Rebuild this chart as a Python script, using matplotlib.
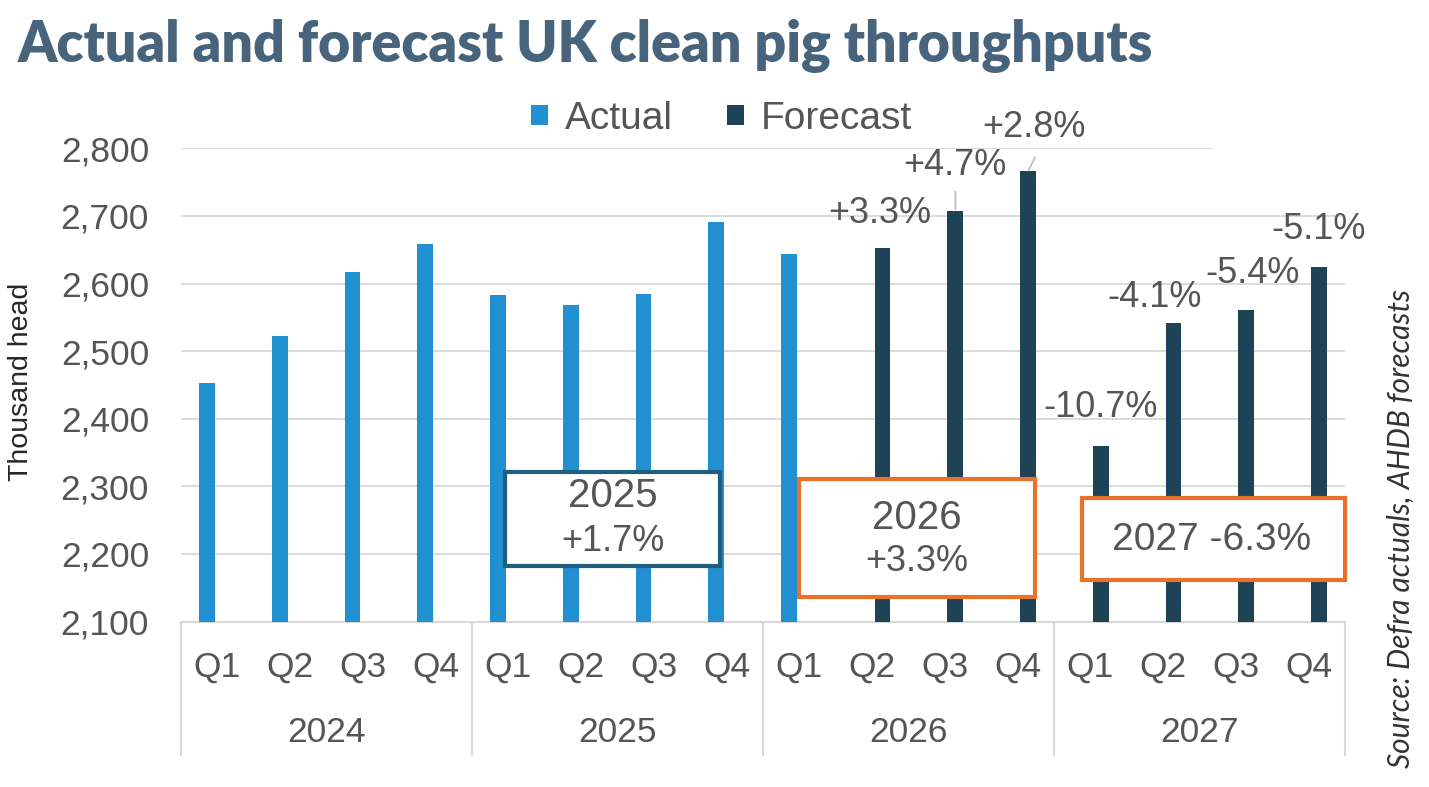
import numpy as np
import matplotlib
matplotlib.use("Agg")
import matplotlib.pyplot as plt
from matplotlib.patches import Rectangle, Patch
from matplotlib.lines import Line2D
import matplotlib.transforms as mtransforms

# ---- data ----
years = ["2024", "2025", "2026", "2027"]
quarters = ["Q1", "Q2", "Q3", "Q4"]
actual = [2453, 2523, 2617, 2658, 2583, 2568, 2584, 2691, 2643,
          np.nan, np.nan, np.nan, np.nan, np.nan, np.nan, np.nan]
forecast = [np.nan] * 9 + [2652, 2708, 2766, 2360, 2541, 2561, 2625]
forecast_labels = [None] * 9 + ["+3.3%", "+4.7%", "+2.8%", "-10.7%", "-4.1%", "-5.4%", "-5.1%"]
yticks = [2100, 2200, 2300, 2400, 2500, 2600, 2700, 2800]
box_2025 = ("2025", "+1.7%")
box_2026 = ("2026", "+3.3%")
box_2027 = "2027 -6.3%"

# ---- style ----
C_ACT = "#2090D0"
C_FC = "#1E4356"
C_TXT = "#555555"
C_GRID = "#D9D9D9"
C_ORANGE = "#E8722C"
C_TEAL = "#1F5E7D"
FONT = "Liberation Sans"
plt.rcParams["font.family"] = [FONT, "DejaVu Sans"]

W, H = 1429, 787
fig = plt.figure(figsize=(W / 100, H / 100), dpi=100)
L, R = 181 / W, 1345 / W
B, T = 1 - 621.6 / H, 1 - 148.3 / H
ax = fig.add_axes([L, B, R - L, T - B])

n = len(actual)
x = np.arange(n)
bw = 0.216
off = 0.144
ax.bar(x - off, actual, width=bw, color=C_ACT, zorder=3, label="Actual")
ax.bar(x + off, forecast, width=bw, color=C_FC, zorder=3, label="Forecast")

ax.set_xlim(-0.5, n - 0.5)
ax.set_ylim(yticks[0], yticks[-1])

# gridlines (top one stops short, as in the original)
for yv in yticks[1:]:
    xmax = 0.886 if yv == yticks[-1] else 1.0
    ax.axhline(yv, xmin=0, xmax=xmax, color=C_GRID, lw=1.3, zorder=1)

for s in ax.spines.values():
    s.set_visible(False)
ax.axhline(yticks[0], color=C_GRID, lw=1.5, zorder=2, clip_on=False)

ax.set_yticks(yticks)
ax.set_yticklabels([f"{v:,}" for v in yticks], fontsize=25.5, color=C_TXT)
ax.tick_params(axis="y", length=0, pad=23)

ax.set_xticks(x)
ax.set_xticklabels(quarters * len(years), fontsize=25.5, color=C_TXT)
ax.tick_params(axis="x", length=0, pad=21)

# year group labels and separators
trans = mtransforms.blended_transform_factory(ax.transData, ax.transAxes)
sep_bottom = -(755 - 621.6) / (621.6 - 148.3)
year_y = -(733 - 621.6) / (621.6 - 148.3)
for i, yr in enumerate(years):
    ax.text(i * 4 + 1.5, year_y, yr, transform=trans, ha="center", va="center",
            fontsize=25.5, color=C_TXT)
for k in range(len(years) + 1):
    ax.add_line(Line2D([k * 4 - 0.5, k * 4 - 0.5], [0, sep_bottom], transform=trans,
                       color=C_GRID, lw=1.5, clip_on=False))

# data labels on forecast bars (manual offsets in pixels like the original)
lab_offsets = {9: (-3, 35), 10: (0, 45), 11: (6, 44), 12: (0, 38),
               13: (-19, 26), 14: (6, 36), 15: (-1, 37)}
for i, lab in enumerate(forecast_labels):
    if lab is None:
        continue
    dx, dy = lab_offsets[i]
    ax.annotate(lab, xy=(x[i] + off, forecast[i]), xytext=(dx, dy),
                textcoords="offset pixels", ha="center", va="center",
                fontsize=26, color=C_TXT, annotation_clip=False, zorder=5)
# leader lines
ax.annotate("", xy=(x[10] + off, forecast[10]), xytext=(0, 19), textcoords="offset pixels",
            arrowprops=dict(arrowstyle="-", color="#BFBFBF", lw=1.3, shrinkA=0, shrinkB=1))
ax.annotate("", xy=(x[11] + off, forecast[11]), xytext=(7, 14), textcoords="offset pixels",
            arrowprops=dict(arrowstyle="-", color="#BFBFBF", lw=1.3, shrinkA=0, shrinkB=1))

# annotation boxes
def pxx(px):
    return (px - 181) / 72.75 - 0.5

def pxy(py):
    return 2800 - (py - 148.3) / 0.6762

def box(x0, x1, y0, y1, ec):
    ax.add_patch(Rectangle((pxx(x0), pxy(y1)), pxx(x1) - pxx(x0), pxy(y0) - pxy(y1),
                           facecolor="white", edgecolor=ec, lw=3, zorder=6, clip_on=False))

box(505, 720, 472, 566, C_TEAL)
ax.text(pxx(613), pxy(496.5), box_2025[0], ha="center", va="center", fontsize=29, color=C_TXT, zorder=7)
ax.text(pxx(613), pxy(542), box_2025[1], ha="center", va="center", fontsize=26, color=C_TXT, zorder=7)

box(799, 1035, 479, 597, C_ORANGE)
ax.text(pxx(917), pxy(518.5), box_2026[0], ha="center", va="center", fontsize=29, color=C_TXT, zorder=7)
ax.text(pxx(917), pxy(562), box_2026[1], ha="center", va="center", fontsize=26, color=C_TXT, zorder=7)

box(1082, 1345, 498, 580, C_ORANGE)
ax.text(pxx(1212), pxy(540), box_2027, ha="center", va="center", fontsize=28, color=C_TXT, zorder=7)

# legend
handles = [Patch(facecolor=C_ACT, edgecolor="none", label="Actual"),
           Patch(facecolor=C_FC, edgecolor="none", label="Forecast")]
leg = fig.legend(handles=handles, loc="center", bbox_to_anchor=(721.5 / W, 1 - 119 / H),
                 ncol=2, frameon=False, fontsize=28, handlelength=0.44, handleheight=0.44,
                 handletextpad=0.42, columnspacing=1.4, borderpad=0, borderaxespad=0)
for t in leg.get_texts():
    t.set_color(C_TXT)

# title
fig.text(18 / W, 1 - 62 / H, "Actual and forecast UK clean pig throughputs",
         fontsize=40, fontweight="heavy", family=["Lato", "DejaVu Sans"],
         color="#48647C", ha="left", va="baseline")

# y axis title
fig.text(21 / W, 1 - 382 / H, "Thousand head", rotation=90, ha="center", va="center",
         fontsize=20.5, color="#262626")

# source
fig.text(1401 / W, 1 - 528 / H, "Source: Defra actuals, AHDB forecasts", rotation=90,
         ha="center", va="center", fontsize=21.5, style="italic", fontweight="normal",
         family=["Lato", "DejaVu Sans"], color="#333333")

fig.savefig("out.png", dpi=100)
